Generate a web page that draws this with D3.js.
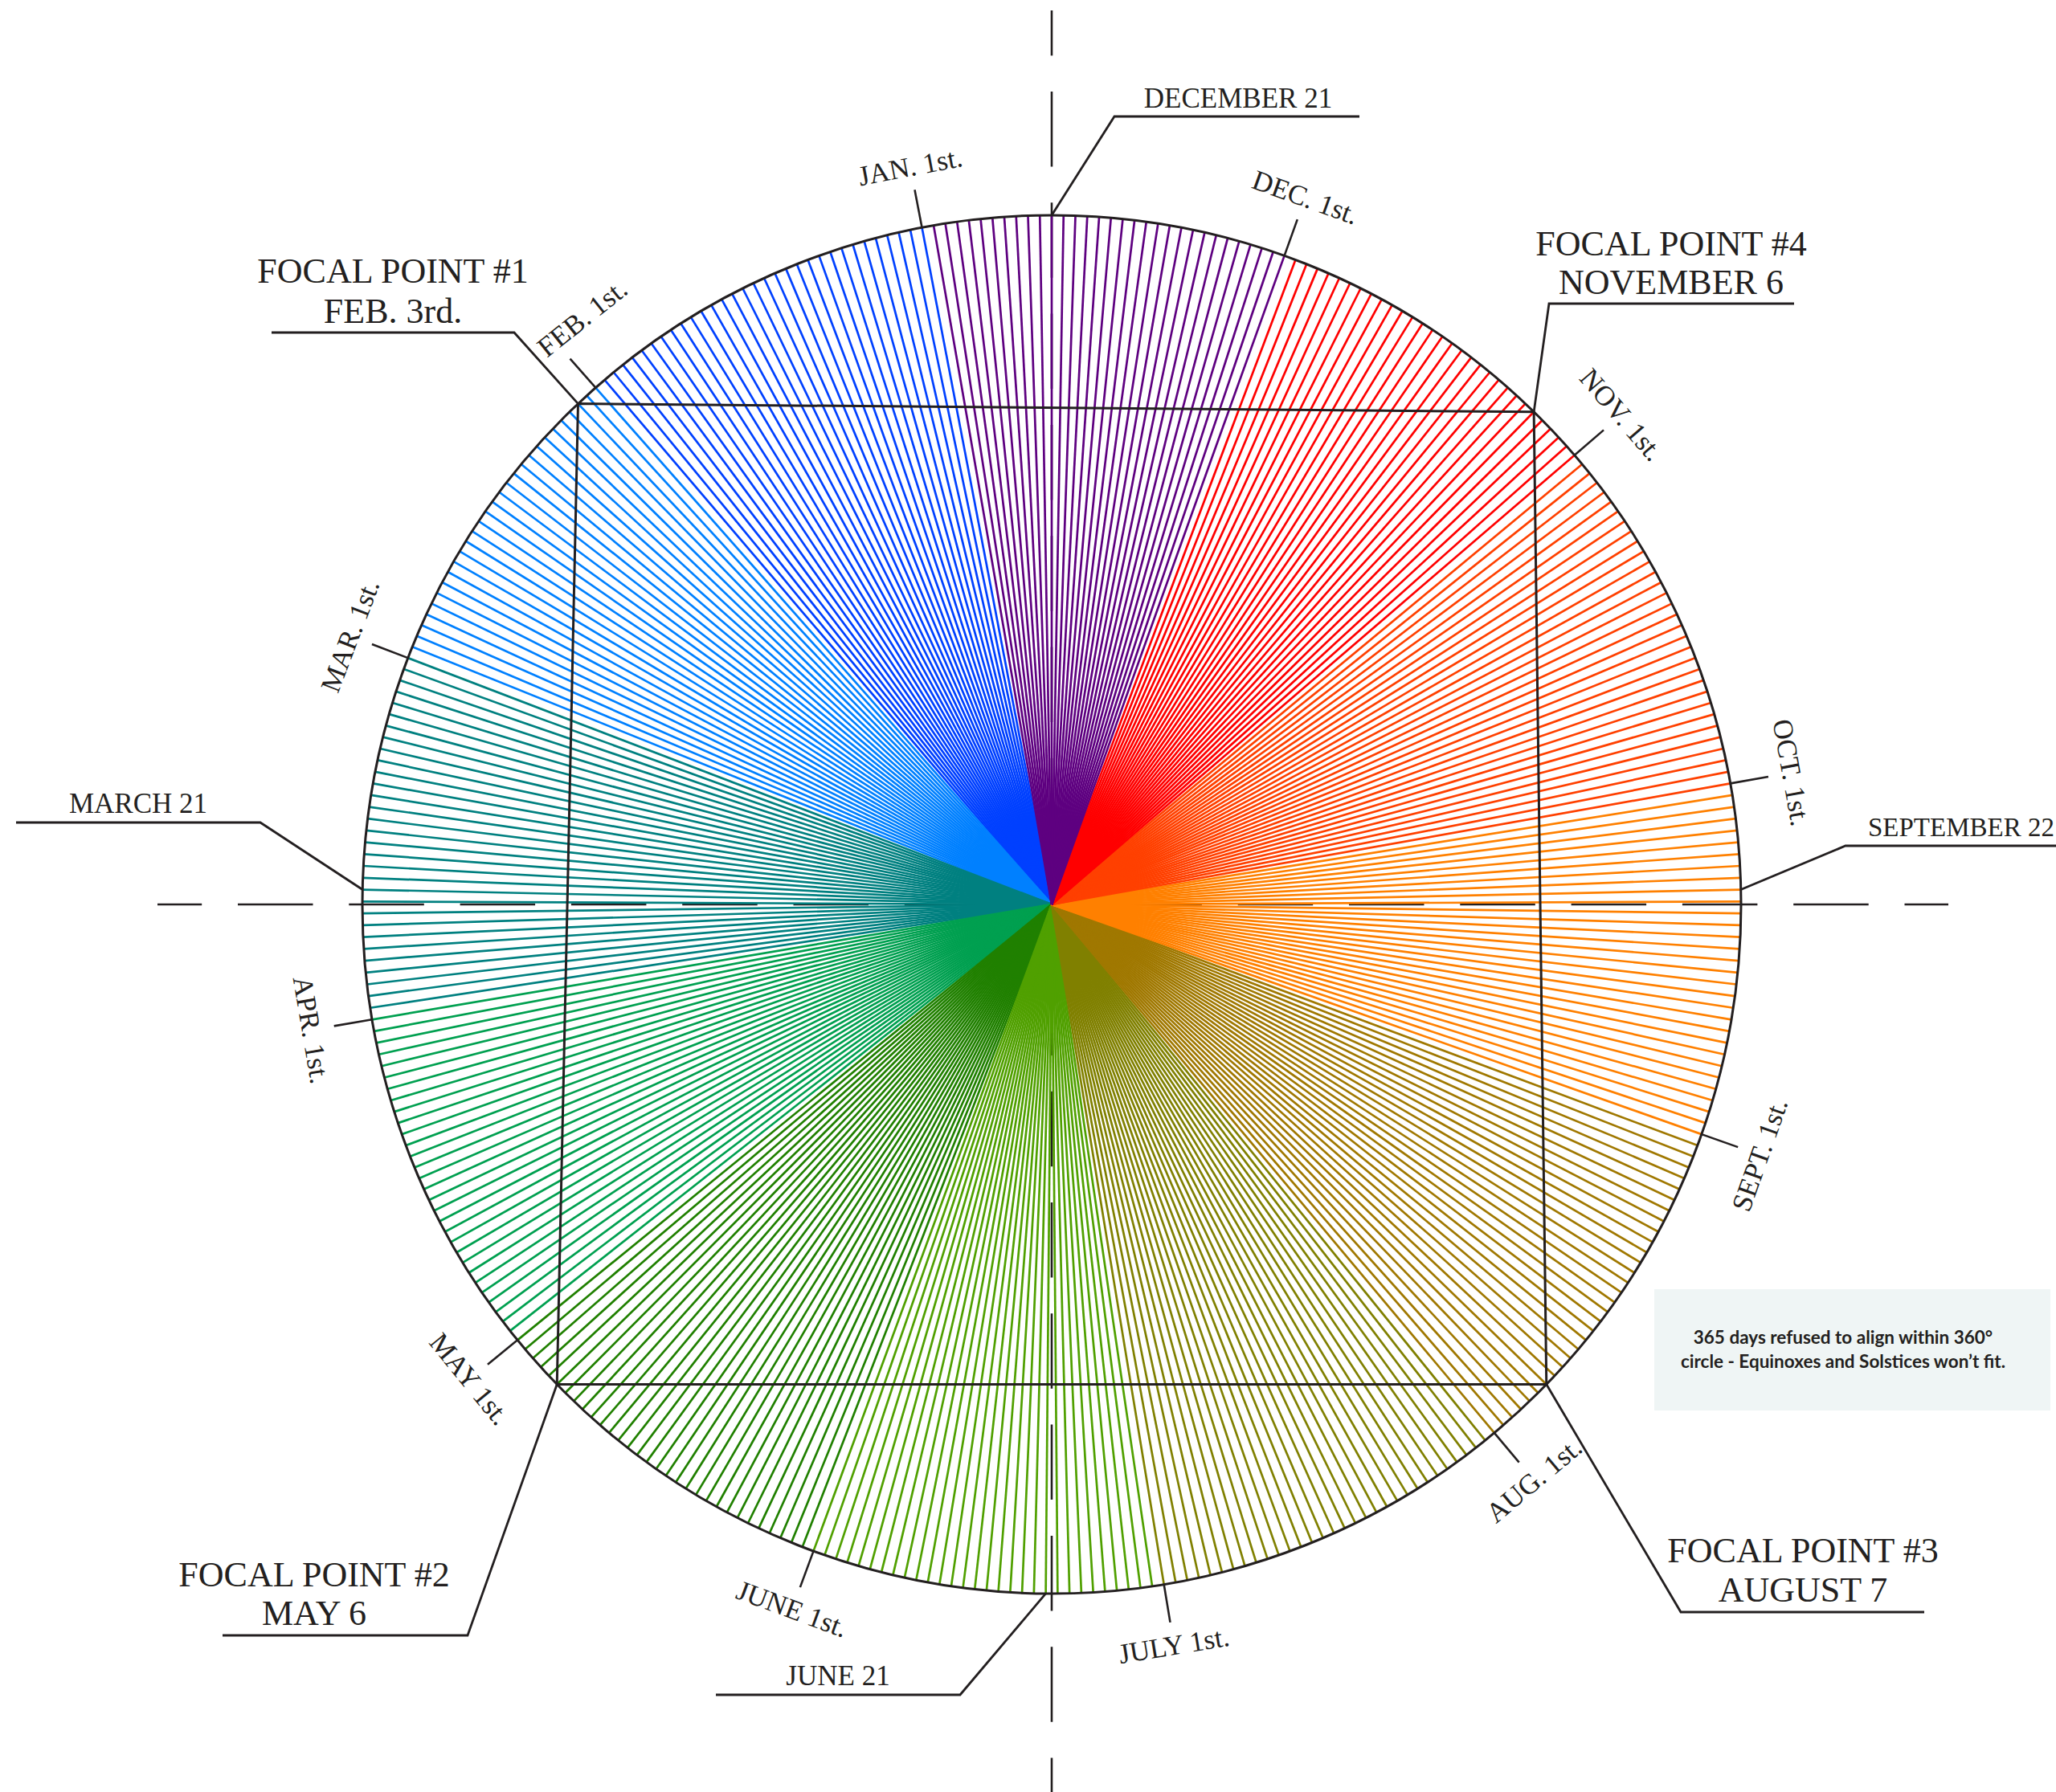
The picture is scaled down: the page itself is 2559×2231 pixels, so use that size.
<!DOCTYPE html>
<html>
<head>
<meta charset="utf-8">
<script src="https://cdn.jsdelivr.net/npm/d3@7/dist/d3.min.js"></script>
<style>
  body { margin: 0; background: #fff; }
  svg { display: block; }
</style>
</head>
<body>
<div class="vis"></div>
<script>
// calendar data: one ray per day, months coloured
const monthNames = ["JAN", "FEB", "MAR", "APR", "MAY", "JUN", "JUL", "AUG", "SEP", "OCT", "NOV", "DEC"];
const monthDays = [31, 28, 31, 30, 31, 30, 31, 31, 30, 31, 30, 31];
const monthColors = ["#0040ff", "#0080ff", "#008080", "#00a050", "#208000", "#50a000",
                     "#808000", "#a07800", "#ff8000", "#ff4000", "#ff0000", "#5e0080"];
const tickLabels = ["JAN. 1st.", "FEB. 1st.", "MAR. 1st.", "APR. 1st.", "MAY 1st.", "JUNE 1st.",
                    "JULY 1st.", "AUG. 1st.", "SEPT. 1st.", "OCT. 1st.", "NOV. 1st.", "DEC. 1st."];

// focal points (month, day)
const focalDates = [[2, 3], [5, 6], [8, 7], [11, 6]];
const focalLabels = [["FOCAL POINT #1", "FEB. 3rd."], ["FOCAL POINT #2", "MAY 6"],
                     ["FOCAL POINT #3", "AUGUST 7"], ["FOCAL POINT #4", "NOVEMBER 6"]];

// solstices / equinoxes (month, day)
const seasonDates = [[12, 21], [3, 21], [6, 21], [9, 22]];
const seasonLabels = ["DECEMBER 21", "MARCH 21", "JUNE 21", "SEPTEMBER 22"];

const noteLines = ["365 days refused to align within 360°", "circle - Equinoxes and Solstices won’t fit."];

// ---- layout ----
const width = 2559, height = 2231;
const cx = 1309, cy = 1126, R = 858;
const ink = "#231f20";
const serif = "'Liberation Serif', 'Times New Roman', serif";

// small angular nudges (in days) for month labels that would hit a leader
const labelNudge = [0, -2.8, 0, 0, 0, 0, 0, 0, 0, 0, 0, 0];

// callout elbows and text spots (layout only)
const seasonLayout = [
  { elbow: [1387, 145], end: [1692, 145], tx: 1541, ty: 134, anchor: "middle", size: 35 },
  { elbow: [324, 1024], end: [20, 1024], tx: 172, ty: 1012, anchor: "middle", size: 35 },
  { elbow: [1195, 2110], end: [891, 2110], tx: 1043, ty: 2098, anchor: "middle", size: 35 },
  { elbow: [2297, 1053], end: [2600, 1053], tx: 2325, ty: 1041, anchor: "start", size: 33 }
];
const focalLayout = [
  { elbow: [640, 414], end: [338, 414], tx: 489, ty: [352, 402] },
  { elbow: [582, 2036], end: [277, 2036], tx: 391, ty: [1975, 2023] },
  { elbow: [2092, 2007], end: [2395, 2007], tx: 2244, ty: [1945, 1994] },
  { elbow: [1928, 378], end: [2233, 378], tx: 2080, ty: [318, 366] }
];

// days counted from Dec 21 (top of the circle), running counter-clockwise
const monthStart = d3.cumsum([0].concat(monthDays.slice(0, 11))); // day-of-year of each 1st
const dayIndex = (m, d) => (11 + monthStart[m - 1] + d - 1) % 365;

const angle = d3.scaleLinear().domain([0, 365]).range([0, 2 * Math.PI]);
const pt = (day, r) => [cx - r * Math.sin(angle(day)), cy - r * Math.cos(angle(day))];

const rays = [];
monthDays.forEach((n, i) => {
  for (let d = 1; d <= n; d++) rays.push({ day: dayIndex(i + 1, d), color: monthColors[i] });
});

const svg = d3.select(".vis").append("svg")
  .attr("width", width).attr("height", height)
  .style("background", "#fff");

// dashed centre lines (under the rays)
const axes = svg.append("g")
  .attr("stroke", ink).attr("stroke-width", 2.6)
  .attr("stroke-dasharray", "93.5 44.8");
axes.append("line").attr("x1", cx).attr("x2", cx).attr("y1", 13).attr("y2", height + 10)
  .attr("stroke-dashoffset", 37.3);
axes.append("line").attr("y1", cy).attr("y2", cy).attr("x1", 196).attr("x2", 2425)
  .attr("stroke-dashoffset", 38.3);

// rays
svg.append("g")
  .selectAll("line")
  .data(rays)
  .join("line")
  .attr("x1", cx).attr("y1", cy)
  .attr("x2", (d) => pt(d.day, R)[0])
  .attr("y2", (d) => pt(d.day, R)[1])
  .attr("stroke", (d) => d.color)
  .attr("stroke-width", 2.7);

// outline
svg.append("circle")
  .attr("cx", cx).attr("cy", cy).attr("r", R)
  .attr("fill", "none").attr("stroke", ink).attr("stroke-width", 3);

// focal quadrilateral
const focalPts = focalDates.map(([m, d]) => pt(dayIndex(m, d), R));
svg.append("path")
  .attr("d", d3.line()(focalPts) + "Z")
  .attr("fill", "none").attr("stroke", ink).attr("stroke-width", 3)
  .attr("stroke-linejoin", "miter");

// month ticks + labels
const ticks = svg.append("g");
monthStart.forEach((s, i) => {
  const day = (s + 11) % 365;
  const p0 = pt(day, R), p1 = pt(day, R + 48);
  const lday = day + labelNudge[i];
  const pl = pt(lday, R + 77);
  ticks.append("line")
    .attr("x1", p0[0]).attr("y1", p0[1]).attr("x2", p1[0]).attr("y2", p1[1])
    .attr("stroke", ink).attr("stroke-width", 2.6);
  let rot = -angle(lday) * 180 / Math.PI;
  while (rot <= -180) rot += 360;
  while (rot > 180) rot -= 360;
  if (rot > 90) rot -= 180;
  if (rot < -90) rot += 180;
  ticks.append("text")
    .attr("transform", `translate(${pl[0]},${pl[1]}) rotate(${rot})`)
    .attr("text-anchor", "middle")
    .attr("dy", "0.33em")
    .attr("font-family", serif).attr("font-size", 35)
    .attr("fill", ink)
    .text(tickLabels[i]);
});

// solstice / equinox callouts
const callouts = svg.append("g");
seasonDates.forEach(([m, d], i) => {
  const L = seasonLayout[i];
  const a = pt(dayIndex(m, d), R);
  callouts.append("path")
    .attr("d", d3.line()([a, L.elbow, L.end]))
    .attr("fill", "none").attr("stroke", ink).attr("stroke-width", 2.8);
  callouts.append("text")
    .attr("x", L.tx).attr("y", L.ty)
    .attr("text-anchor", L.anchor)
    .attr("font-family", serif).attr("font-size", L.size)
    .attr("fill", ink)
    .text(seasonLabels[i]);
});

// focal point callouts
focalPts.forEach((a, i) => {
  const L = focalLayout[i];
  callouts.append("path")
    .attr("d", d3.line()([a, L.elbow, L.end]))
    .attr("fill", "none").attr("stroke", ink).attr("stroke-width", 2.8);
  focalLabels[i].forEach((t, j) => {
    callouts.append("text")
      .attr("x", L.tx).attr("y", L.ty[j])
      .attr("text-anchor", "middle")
      .attr("font-family", serif).attr("font-size", 44)
      .attr("fill", ink)
      .text(t);
  });
});

// note box
const note = svg.append("g");
note.append("rect")
  .attr("x", 2059).attr("y", 1605).attr("width", 493).attr("height", 151)
  .attr("fill", "#eff5f5");
noteLines.forEach((t, j) => {
  note.append("text")
    .attr("x", 2294).attr("y", 1673 + j * 30)
    .attr("text-anchor", "middle")
    .attr("font-family", "'Comic Sans MS', Lato, sans-serif")
    .attr("font-weight", 700)
    .attr("font-size", 22.5)
    .attr("fill", ink)
    .text(t);
});
</script>
</body>
</html>
